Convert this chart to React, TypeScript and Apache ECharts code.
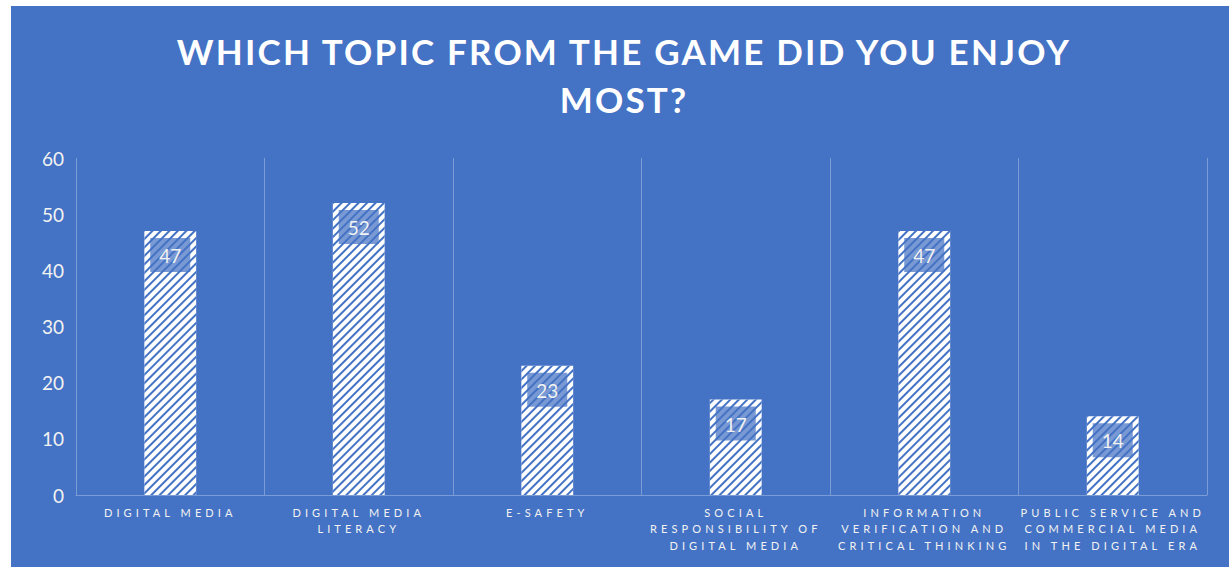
import React, { useEffect, useRef } from "react";
import * as echarts from "echarts";

const categories = [
  "DIGITAL MEDIA",
  "DIGITAL MEDIA\nLITERACY",
  "E-SAFETY",
  "SOCIAL\nRESPONSIBILITY OF\nDIGITAL MEDIA",
  "INFORMATION\nVERIFICATION AND\nCRITICAL THINKING",
  "PUBLIC SERVICE AND\nCOMMERCIAL MEDIA\nIN THE DIGITAL ERA",
];
const values = [47, 52, 23, 17, 47, 14];
const titleText = "WHICH TOPIC FROM THE GAME DID YOU ENJOY\nMOST?";

const BLUE = "#4472C4";
const FONT = "Lato";

export default function App() {
  const ref = useRef<HTMLDivElement>(null);
  useEffect(() => {
    if (!ref.current) return;
    const chart = echarts.init(ref.current, undefined, { renderer: "svg" });
    const option: any = {
      animation: false,
      backgroundColor: "#FFFFFF",
      graphic: [
        {
          type: "rect",
          z: -10,
          shape: { x: 11, y: 6, width: 1218, height: 561 },
          style: { fill: BLUE },
          silent: true,
        },
      ],
      title: {
        text: titleText,
        left: 624,
        top: 27,
        textAlign: "center",
        padding: 0,
        textStyle: {
          color: "#FFFFFF",
          fontFamily: FONT,
          fontWeight: "bold",
          fontSize: 35,
          lineHeight: 48,
        },
      },
      grid: { left: 76, right: 22, top: 158, bottom: 72, containLabel: false },
      xAxis: {
        type: "category",
        data: categories,
        axisLine: { lineStyle: { color: "rgba(255,255,255,0.3)", width: 1 } },
        axisTick: { show: false },
        splitLine: { show: true, lineStyle: { color: "rgba(255,255,255,0.3)", width: 1 } },
        axisLabel: {
          interval: 0,
          color: "#F2F2F2",
          fontFamily: FONT,
          fontSize: 11,
          lineHeight: 16.5,
          margin: 9,
        },
      },
      yAxis: {
        type: "value",
        min: 0,
        max: 60,
        interval: 10,
        axisLine: { show: false },
        axisTick: { show: false },
        splitLine: { show: false },
        axisLabel: { color: "#F2F2F2", fontFamily: FONT, fontSize: 19, margin: 12 },
      },
      series: [
        {
          type: "bar",
          data: values,
          barWidth: "27.5%",
          itemStyle: {
            color: "#FFFFFF",
            decal: {
              symbol: "rect",
              color: BLUE,
              backgroundColor: "#FFFFFF",
              dashArrayX: [1, 0],
              dashArrayY: [1.1, 3.1],
              rotation: -Math.PI / 4,
              symbolSize: 1,
            },
          },
          label: {
            show: true,
            position: "insideTop",
            distance: 7,
            color: "#F2F2F2",
            fontFamily: FONT,
            fontSize: 19,
            backgroundColor: "rgba(68,114,196,0.72)",
            padding: [8, 9, 7, 9],
          },
        },
      ],
    };
    chart.setOption(option);

    const titleLines = titleText.split("\n");
    const catLines: string[] = [];
    categories.forEach((c) => c.split("\n").forEach((l) => catLines.push(l)));
    const applySpacing = () => {
      const root = ref.current;
      if (!root) return;
      root.querySelectorAll("text").forEach((t) => {
        const s = (t.textContent || "").trim();
        if (titleLines.includes(s)) t.setAttribute("letter-spacing", "2.2");
        else if (catLines.includes(s)) t.setAttribute("letter-spacing", "4.1");
      });
    };
    applySpacing();
    chart.on("finished", applySpacing);
    const tm = setTimeout(applySpacing, 50);
    return () => {
      clearTimeout(tm);
      chart.dispose();
    };
  }, []);
  return (
    <div
      ref={ref}
      style={{ position: "absolute", left: 0, top: 0, width: 1229, height: 567 }}
    />
  );
}
